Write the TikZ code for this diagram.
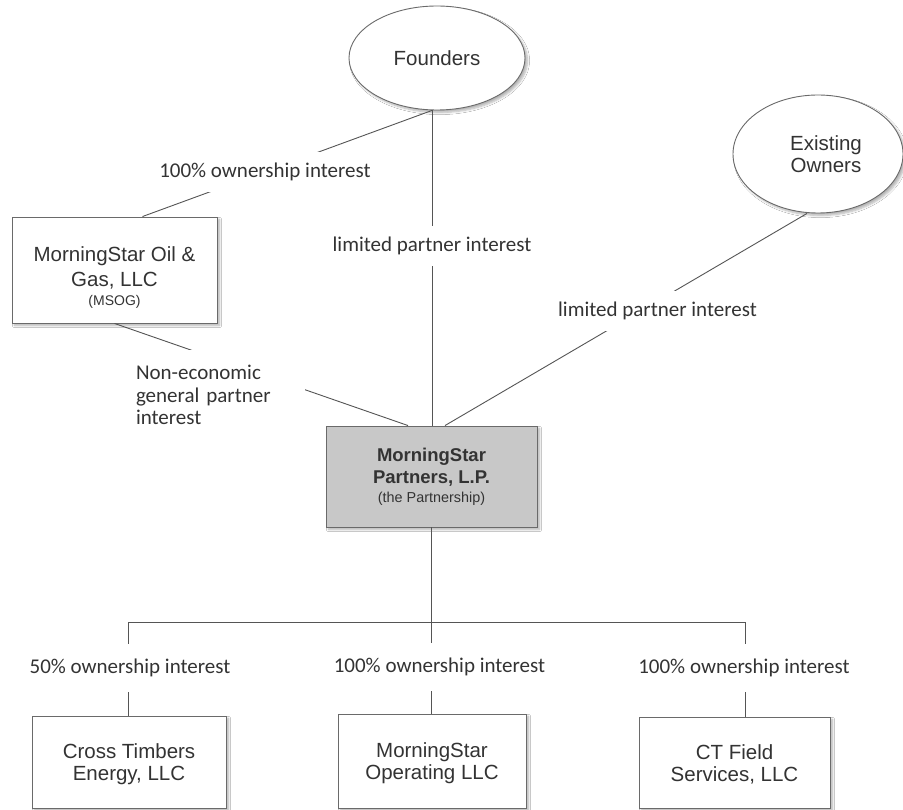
\documentclass[tikz,border=0pt]{standalone}
\usepackage{fontspec}
\setmainfont{Liberation Sans}
\newfontfamily\lblfont{Carlito}
\usetikzlibrary{shapes.geometric,shadows.blur}
\definecolor{txt}{HTML}{333333}
\definecolor{ln}{HTML}{555555}
\definecolor{bd}{HTML}{6A6A6A}
\definecolor{lpfill}{HTML}{C8C8C8}
\begin{document}
\begin{tikzpicture}[x=1pt,y=-1pt,
  ent/.style={draw=bd, line width=0.9pt, fill=white, text=txt, align=center, inner sep=0pt,
    font=\fontsize{20.5}{22}\selectfont,
    blur shadow={shadow xshift=2.5pt, shadow yshift=-2.5pt, shadow blur steps=6, shadow opacity=30}},
  oval/.style={ent, ellipse},
  conn/.style={draw=ln, line width=0.9pt},
  lbl/.style={fill=white, text=txt, font=\lblfont\fontsize{21}{22.5}\selectfont, inner xsep=2pt, inner ysep=11pt},
]
\useasboundingbox (0,0) rectangle (903,810);
\fill[white] (0,0) rectangle (903,810);

% entities
\node[oval, minimum width=176pt, minimum height=104pt] (founders) at (437,58) {Founders};
\node[oval, minimum width=170pt, minimum height=118pt] (owners) at (818,154) {\hspace*{16pt}Existing\\\hspace*{16pt}Owners};
\node[ent, minimum width=205pt, minimum height=106pt] (msog) at (114.5,270) {\rule{0pt}{29pt}MorningStar Oil \&\\[3pt]Gas, LLC\\[-3pt]{\fontsize{14}{16}\selectfont (MSOG)}};
\node[ent, fill=lpfill, minimum width=211pt, minimum height=101pt, font=\bfseries\fontsize{18.5}{22}\selectfont] (lp) at (431.5,476.5) {MorningStar\\Partners, L.P.\\[-3pt]{\mdseries\fontsize{14.4}{17}\selectfont (the Partnership)}};
\node[ent, minimum width=194pt, minimum height=92pt] (cte) at (129,762) {\rule{0pt}{19pt}Cross Timbers\\Energy, LLC};
\node[ent, minimum width=188pt, minimum height=94pt] (mso) at (432,761) {\rule{0pt}{20pt}MorningStar\\Operating LLC};
\node[ent, minimum width=191pt, minimum height=91pt] (ctf) at (734.5,762.5) {\rule{0pt}{19pt}CT Field\\Services, LLC};

% upper connectors
\coordinate (ftop) at ([xshift=-5pt]founders.south);
\draw[conn] (ftop) -- (ftop |- lp.north) node[lbl, pos=0.43] {limited partner interest};
\draw[conn] (ftop) -- ([xshift=28pt]msog.north) node[lbl, pos=0.577] {100\% ownership interest};
\draw[conn] ([xshift=-11pt]owners.south) -- ([xshift=13.5pt]lp.north) node[lbl, pos=0.413, yshift=-10pt] {limited partner interest};
\draw[conn] (msog.south) -- ([xshift=-23.5pt]lp.north);
\node[lbl, text width=162pt, align=left, minimum width=176pt, minimum height=90pt, inner ysep=0pt] (ne) at (217,395) {Non-economic\\general partner\\interest};

% lower connectors
\coordinate (bL) at (128,622);
\coordinate (bM) at (lp.south |- bL);
\coordinate (bR) at (745,622);
\draw[conn] (lp.south) -- (bM);
\draw[conn] (bL) -- (bR);
\draw[conn] (bL) -- (bL |- cte.north) node[lbl, pos=0.49, xshift=2pt, inner ysep=15pt] {50\% ownership interest};
\draw[conn] (bM) -- (bM |- mso.north) node[lbl, pos=0.49, xshift=8pt, inner ysep=15pt] {100\% ownership interest};
\draw[conn] (bR) -- (bR |- ctf.north) node[lbl, pos=0.49, xshift=-1pt, inner ysep=15pt] {100\% ownership interest};
\end{tikzpicture}
\end{document}
